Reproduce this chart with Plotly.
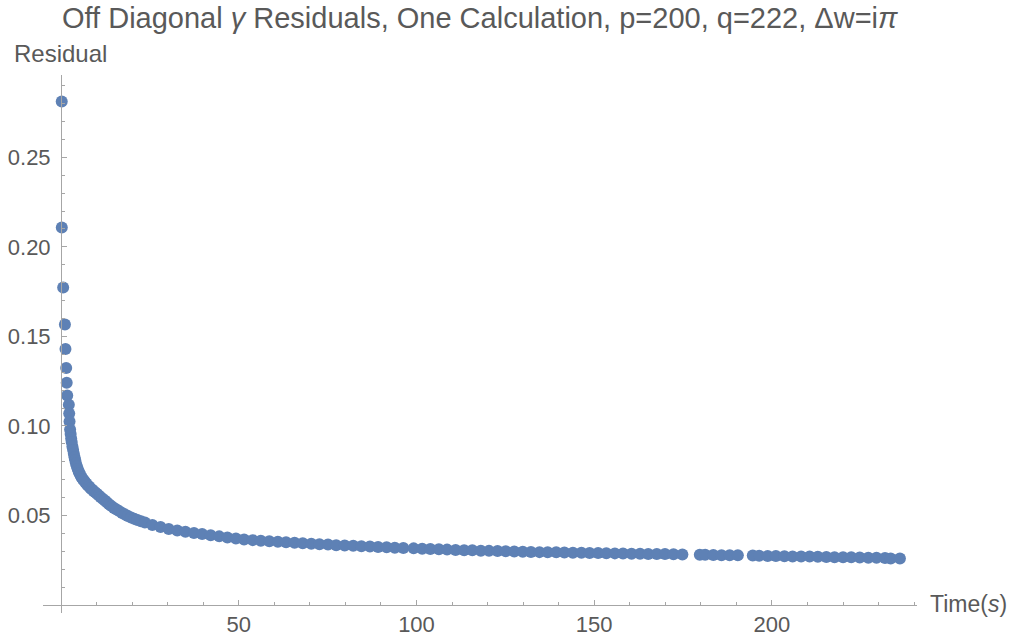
import plotly.graph_objects as go

# Wall-clock time of each iteration (s) and the off-diagonal residual reached
time_s = [
    0.2, 0.22, 0.6, 1.1, 1.25, 1.45, 1.6, 1.75, 2.2, 2.3,
    2.4, 2.55, 2.7, 2.85, 3.0, 3.2, 3.4, 3.6, 3.8, 4.0,
    4.2, 4.45, 4.7, 4.95, 5.2, 5.5, 5.8, 6.1, 6.4, 6.75,
    7.1, 7.5, 7.9, 8.3, 8.7, 9.15, 9.6, 10.1, 10.6, 11.1,
    11.7, 12.3, 12.9, 13.5, 14.2, 14.9, 15.6, 16.4, 17.2, 18.0,
    18.8, 19.7, 20.6, 21.5, 22.5, 23.6,
    25.7, 28.0, 30.3, 32.7, 35.0, 37.4, 39.7, 42.1, 44.5, 46.8,
    49.2, 51.5, 53.9, 56.2, 58.6, 61.0, 63.3, 65.7, 68.0, 70.4,
    72.7, 75.1, 77.4, 79.8, 82.2, 84.5, 86.9, 89.2, 91.6, 93.9,
    96.3, 99.2, 101.6, 103.9, 106.3, 108.6, 111.0, 113.4, 115.7, 118.1,
    120.4, 122.8, 125.1, 127.5, 129.9, 132.2, 134.6, 136.9, 139.3, 141.6,
    144.0, 146.4, 148.7, 151.1, 153.4, 155.8, 158.1, 160.5, 162.9, 165.2,
    167.6, 169.9, 172.3, 174.8,
    179.7, 181.2, 183.5, 185.8, 188.1, 190.4,
    194.6, 196.4, 198.8, 201.1, 203.5, 205.8, 208.2, 210.6, 212.9, 215.3,
    217.6, 220.0, 222.3, 224.7, 227.1, 229.4, 231.8, 233.4, 236.0,
]
residual = [
    0.2812, 0.2108, 0.1773, 0.1566, 0.1430, 0.1323, 0.1241, 0.1170, 0.1118, 0.1070,
    0.1025, 0.0980, 0.0955, 0.0930, 0.0910, 0.0885, 0.0865, 0.0845, 0.0825, 0.0808,
    0.0790, 0.0775, 0.0760, 0.0747, 0.0735, 0.0723, 0.0712, 0.0703, 0.0696, 0.0687,
    0.0678, 0.0669, 0.0661, 0.0652, 0.0645, 0.0637, 0.0629, 0.0621, 0.0612, 0.0603,
    0.0593, 0.0583, 0.0573, 0.0563, 0.0552, 0.0542, 0.0533, 0.0524, 0.0514, 0.0505,
    0.0497, 0.0489, 0.0481, 0.0474, 0.0467, 0.0460,
    0.0446, 0.0435, 0.0424, 0.0416, 0.0409, 0.0402, 0.0396, 0.0389, 0.0383, 0.0377,
    0.0371, 0.0366, 0.0362, 0.0359, 0.0356, 0.0353, 0.0350, 0.0347, 0.0344, 0.0342,
    0.0339, 0.0337, 0.0334, 0.0332, 0.0330, 0.0328, 0.0326, 0.0324, 0.0322, 0.0320,
    0.0318, 0.0316, 0.0314, 0.0312, 0.0311, 0.0309, 0.0307, 0.0306, 0.0305, 0.0303,
    0.0302, 0.0301, 0.0300, 0.0298, 0.0297, 0.0296, 0.0295, 0.0294, 0.0294, 0.0293,
    0.0292, 0.0291, 0.0290, 0.0290, 0.0289, 0.0288, 0.0287, 0.0286, 0.0286, 0.0285,
    0.0284, 0.0284, 0.0283, 0.0282,
    0.0280, 0.0280, 0.0279, 0.0278, 0.0278, 0.0277,
    0.0276, 0.0275, 0.0274, 0.0273, 0.0272, 0.0271, 0.0270, 0.0270, 0.0269, 0.0268,
    0.0267, 0.0267, 0.0266, 0.0265, 0.0264, 0.0264, 0.0262, 0.0259, 0.0260,
]

x_ticks = [50, 100, 150, 200]
y_ticks = [0.05, 0.10, 0.15, 0.20, 0.25]
y_tick_text = ["0.05", "0.10", "0.15", "0.20", "0.25"]

X_RANGE = [-5.07, 240.8]
Y_RANGE = [-0.0045, 0.296]

FONT = "Liberation Sans, Arial, Helvetica, sans-serif"
TEXT = "#595959"
AXIS = "#a6a6a6"
POINT = "#5e81b5"

fig = go.Figure(
    go.Scatter(
        x=time_s,
        y=residual,
        mode="markers",
        marker=dict(size=12, color=POINT, line=dict(width=0)),
        hoverinfo="x+y",
    )
)

# axes cross at the origin, like a classic frameless plot
x_pos = (0 - Y_RANGE[0]) / (Y_RANGE[1] - Y_RANGE[0])
y_pos = (0 - X_RANGE[0]) / (X_RANGE[1] - X_RANGE[0])

fig.update_layout(
    width=1013,
    height=638,
    autosize=False,
    margin=dict(l=43, r=96, t=75, b=25, autoexpand=False),
    paper_bgcolor="white",
    plot_bgcolor="white",
    showlegend=False,
    font=dict(family=FONT, color=TEXT, size=22),
    xaxis=dict(
        range=X_RANGE,
        anchor="free",
        position=x_pos,
        automargin=False,
        showline=True,
        linecolor=AXIS,
        linewidth=1,
        showgrid=False,
        zeroline=False,
        tickmode="array",
        tickvals=x_ticks,
        ticktext=[str(v) for v in x_ticks],
        ticks="inside",
        ticklen=5,
        tickcolor=AXIS,
        tickfont=dict(size=22, color=TEXT),
        minor=dict(
            tickmode="array",
            tickvals=[v for v in range(10, 241, 10) if v % 50],
            ticks="inside",
            ticklen=3,
            tickcolor=AXIS,
            showgrid=False,
        ),
    ),
    yaxis=dict(
        range=Y_RANGE,
        anchor="free",
        position=y_pos,
        automargin=False,
        showline=True,
        linecolor=AXIS,
        linewidth=1,
        showgrid=False,
        zeroline=False,
        tickmode="array",
        tickvals=y_ticks,
        ticktext=y_tick_text,
        ticks="inside",
        ticklen=5,
        tickcolor=AXIS,
        ticklabelstandoff=6,
        tickfont=dict(size=22, color=TEXT),
        minor=dict(
            tickmode="array",
            tickvals=[k / 100 for k in range(1, 30) if k % 5],
            ticks="inside",
            ticklen=3,
            tickcolor=AXIS,
            showgrid=False,
        ),
    ),
    annotations=[
        dict(
            text="Off Diagonal <i>γ</i> Residuals, One Calculation, p=200, q=222, Δw=i<i>π</i>",
            xref="paper", yref="paper", x=0.5, y=(613 - 18) / 538,
            xanchor="center", yanchor="middle", showarrow=False,
            font=dict(size=29, color=TEXT, family=FONT),
        ),
        dict(
            text="Residual",
            xref="paper", yref="paper", x=(12 - 43) / 874, y=(613 - 54) / 538,
            xanchor="left", yanchor="middle", showarrow=False,
            font=dict(size=24, color=TEXT, family=FONT),
        ),
        dict(
            text="Time(<i>s</i>)",
            xref="paper", yref="paper", x=(928 - 43) / 874, y=(613 - 604) / 538,
            xanchor="left", yanchor="middle", showarrow=False,
            font=dict(size=23, color=TEXT, family=FONT),
        ),
    ],
)

fig.write_html("out.html")
